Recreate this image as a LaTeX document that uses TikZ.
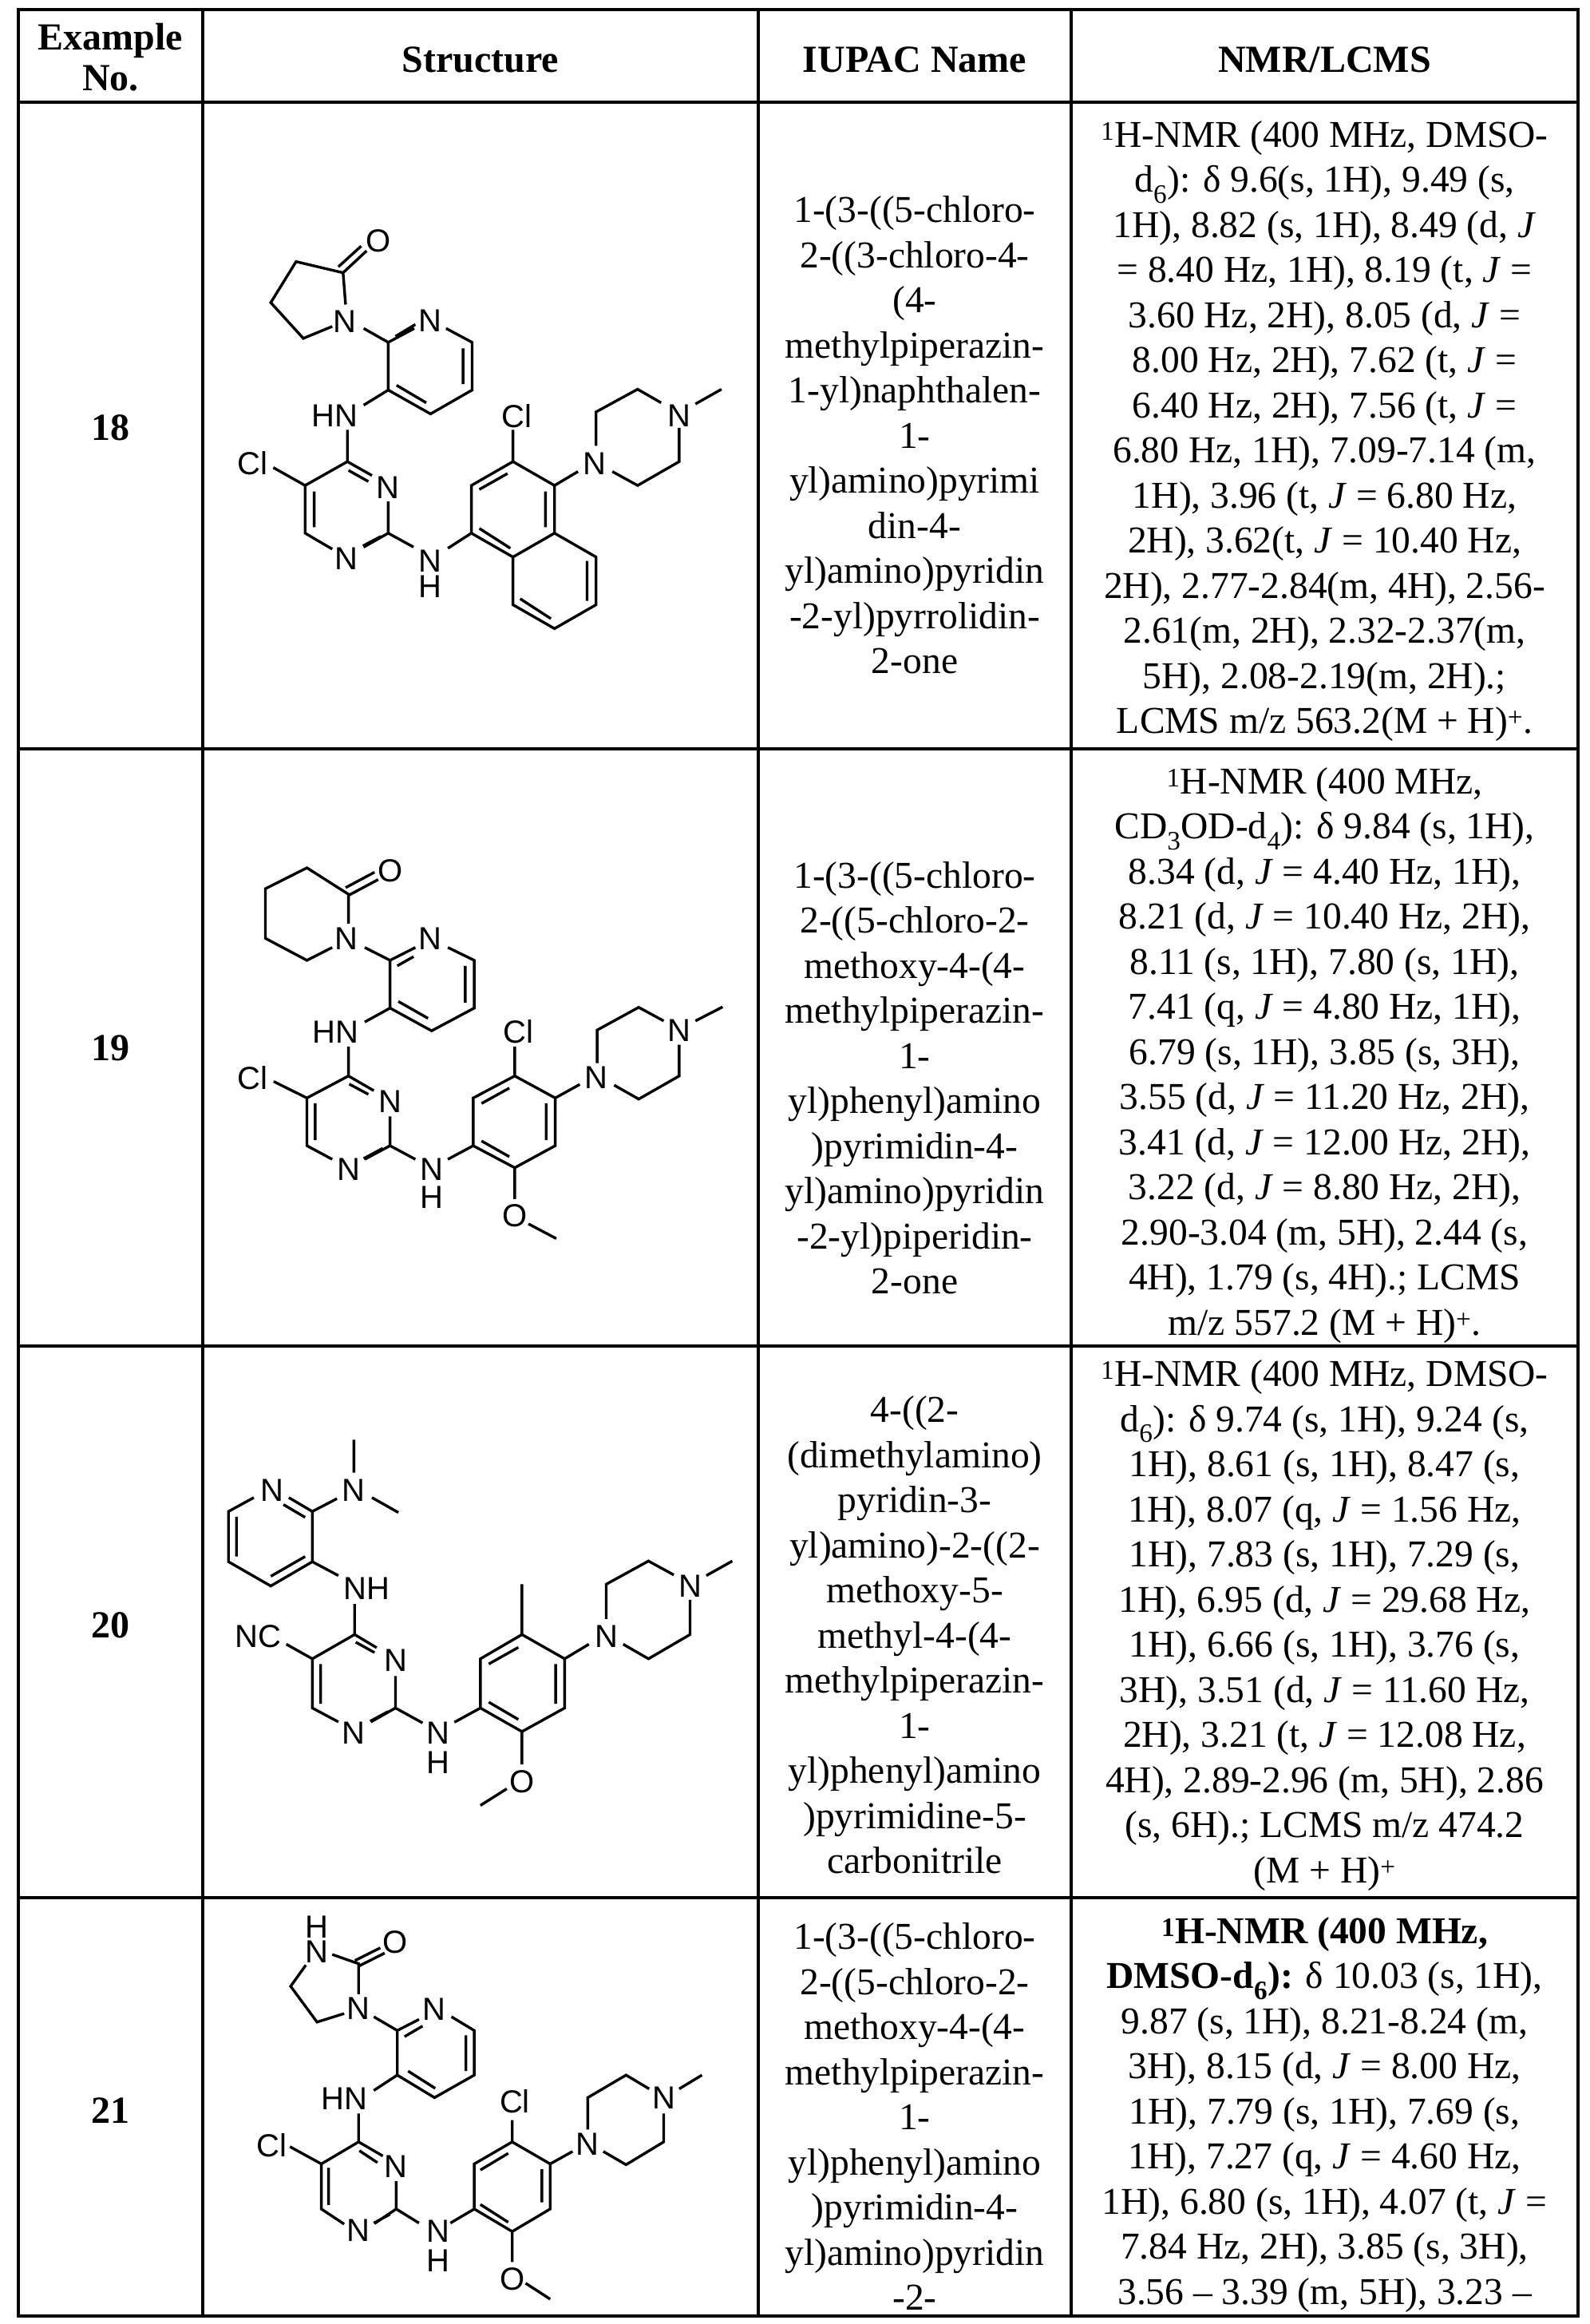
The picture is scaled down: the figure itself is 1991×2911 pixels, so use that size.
\documentclass[tikz,border=0pt]{standalone}
\usepackage{fontspec}
\setmainfont{Liberation Serif}
\newfontfamily\chemfont{Liberation Sans}
\begin{document}
\begin{tikzpicture}[x=1pt,y=-1pt,
  grid/.style={line width=3.6pt},
  bond/.style={line width=3.4pt},
  lab/.style={font=\chemfont\fontsize{40}{42}\selectfont, inner sep=0pt},
  txt/.style={font=\fontsize{47.5}{56.5}\selectfont, align=center, inner sep=0pt},
  hdr/.style={font=\bfseries\fontsize{48}{51}\selectfont, align=center, inner sep=0pt}]
\useasboundingbox (0,0) rectangle (1991,2911);
% grid
\draw[grid] (23,12) rectangle (1977,2901);
\foreach \xx in {254,950,1342} \draw[grid] (\xx,12) -- (\xx,2901);
\foreach \yy in {128,938,1686,2377} \draw[grid] (23,\yy) -- (1977,\yy);
% header
\node[hdr] (h1) at (138.5,72) {Example\\No.};
\node[hdr] (h2) at (602,75) {Structure};
\node[hdr] (h3) at (1146,75) {IUPAC Name};
\node[hdr] (h4) at (1659.5,75) {NMR/LCMS};
% example numbers
\node[hdr] (n18) at (138.5,536) {18};
\node[hdr] (n19) at (138.5,1313) {19};
\node[hdr] (n20) at (138.5,2036) {20};
\node[hdr] (n21) at (138.5,2644) {21};
% IUPAC
\node[txt] (i18) at (1146,545) {1-(3-((5-chloro-\\2-((3-chloro-4-\\(4-\\methylpiperazin-\\1-yl)naphthalen-\\1-\\yl)amino)pyrimi\\din-4-\\yl)amino)pyridin\\-2-yl)pyrrolidin-\\2-one};
\node[txt] (i19) at (1146,1350) {1-(3-((5-chloro-\\2-((5-chloro-2-\\methoxy-4-(4-\\methylpiperazin-\\1-\\yl)phenyl)amino\\)pyrimidin-4-\\yl)amino)pyridin\\-2-yl)piperidin-\\2-one};
\node[txt] (i20) at (1146,2048) {4-((2-\\(dimethylamino)\\pyridin-3-\\yl)amino)-2-((2-\\methoxy-5-\\methyl-4-(4-\\methylpiperazin-\\1-\\yl)phenyl)amino\\)pyrimidine-5-\\carbonitrile};
\node[txt] (i21) at (1146,2651) {1-(3-((5-chloro-\\2-((5-chloro-2-\\methoxy-4-(4-\\methylpiperazin-\\1-\\yl)phenyl)amino\\)pyrimidin-4-\\yl)amino)pyridin\\-2-};
% NMR
\node[txt] (m18) at (1659.5,540) {\textsuperscript{1}H-NMR (400 MHz, DMSO-\\d\textsubscript{6}): δ 9.6(s, 1H), 9.49 (s,\\1H), 8.82 (s, 1H), 8.49 (d, \textit{J}\\= 8.40 Hz, 1H), 8.19 (t, \textit{J} =\\3.60 Hz, 2H), 8.05 (d, \textit{J} =\\8.00 Hz, 2H), 7.62 (t, \textit{J} =\\6.40 Hz, 2H), 7.56 (t, \textit{J} =\\6.80 Hz, 1H), 7.09-7.14 (m,\\1H), 3.96 (t, \textit{J} = 6.80 Hz,\\2H), 3.62(t, \textit{J} = 10.40 Hz,\\2H), 2.77-2.84(m, 4H), 2.56-\\2.61(m, 2H), 2.32-2.37(m,\\5H), 2.08-2.19(m, 2H).;\\LCMS m/z 563.2(M + H)\textsuperscript{+}.};
\node[txt] (m19) at (1659.5,1322) {\textsuperscript{1}H-NMR (400 MHz,\\CD\textsubscript{3}OD-d\textsubscript{4}): δ 9.84 (s, 1H),\\8.34 (d, \textit{J} = 4.40 Hz, 1H),\\8.21 (d, \textit{J} = 10.40 Hz, 2H),\\8.11 (s, 1H), 7.80 (s, 1H),\\7.41 (q, \textit{J} = 4.80 Hz, 1H),\\6.79 (s, 1H), 3.85 (s, 3H),\\3.55 (d, \textit{J} = 11.20 Hz, 2H),\\3.41 (d, \textit{J} = 12.00 Hz, 2H),\\3.22 (d, \textit{J} = 8.80 Hz, 2H),\\2.90-3.04 (m, 5H), 2.44 (s,\\4H), 1.79 (s, 4H).; LCMS\\m/z 557.2 (M + H)\textsuperscript{+}.};
\node[txt] (m20) at (1659.5,2036) {\textsuperscript{1}H-NMR (400 MHz, DMSO-\\d\textsubscript{6}): δ 9.74 (s, 1H), 9.24 (s,\\1H), 8.61 (s, 1H), 8.47 (s,\\1H), 8.07 (q, \textit{J} = 1.56 Hz,\\1H), 7.83 (s, 1H), 7.29 (s,\\1H), 6.95 (d, \textit{J} = 29.68 Hz,\\1H), 6.66 (s, 1H), 3.76 (s,\\3H), 3.51 (d, \textit{J} = 11.60 Hz,\\2H), 3.21 (t, \textit{J} = 12.08 Hz,\\4H), 2.89-2.96 (m, 5H), 2.86\\(s, 6H).; LCMS m/z 474.2\\(M + H)\textsuperscript{+}};
\node[txt] (m21) at (1659.5,2649) {\textbf{\textsuperscript{1}H-NMR (400 MHz,}\\\textbf{DMSO-d\textsubscript{6}):} δ 10.03 (s, 1H),\\9.87 (s, 1H), 8.21-8.24 (m,\\3H), 8.15 (d, \textit{J} = 8.00 Hz,\\1H), 7.79 (s, 1H), 7.69 (s,\\1H), 7.27 (q, \textit{J} = 4.60 Hz,\\1H), 6.80 (s, 1H), 4.07 (t, \textit{J} =\\7.84 Hz, 2H), 3.85 (s, 3H),\\3.56 -- 3.39 (m, 5H), 3.23 --};
% ===== Structure 18
\begin{scope}[shift={(260,130)},xscale=0.4528,yscale=0.498]
\draw[bond] (375,425)--(440,370) (362,410)--(425,358)
 (375,425)--(382,505) (345,560)--(265,590)--(175,500)--(245,397)--(375,425)
 (432,565)--(500,600)--(572,565) (520,585)--(575,555)
 (660,565)--(732,600)--(732,720)--(617,780)--(500,720)--(500,600)
 (707,615)--(707,705) (523,708)--(605,752)
 (500,720)--(432,758) (387,820)--(387,900)
 (387,900)--(455,935) (390,922)--(445,950) (500,1000)--(500,1080)--(432,1115) (430,1112)--(480,1088)
 (345,1120)--(270,1080)--(270,960)--(387,900) (295,975)--(295,1065)
 (182,915)--(270,960)
 (500,1080)--(570,1115) (665,1118)--(730,1080)
 (730,1080)--(730,960)--(845,900)--(960,960)--(960,1080)--(845,1140)--(730,1080)
 (752,970)--(830,930) (935,975)--(935,1065) (752,1068)--(838,1118)
 (960,1080)--(1075,1140)--(1075,1260)--(960,1320)--(845,1260)--(845,1140)
 (1050,1150)--(1050,1250) (865,1245)--(950,1295)
 (845,900)--(845,820) (960,960)--(1025,925)
 (1075,860)--(1075,775)--(1190,718)--(1255,752) (1305,815)--(1305,900)--(1190,960)--(1120,925)
 (1350,755)--(1422,718);
\node[lab] (a18o) at (472,345) {O};
\node[lab] (a18n1) at (380,548) {N};
\node[lab] (a18n2) at (615,545) {N};
\node[lab] (a18hn) at (352,785) {HN};
\node[lab] (a18cl1) at (125,905) {Cl};
\node[lab] (a18n3) at (500,965) {N};
\node[lab] (a18n4) at (385,1145) {N};
\node[lab] (a18n5) at (615,1150) {N};
\node[lab] (a18h) at (615,1215) {H};
\node[lab] (a18cl2) at (855,785) {Cl};
\node[lab] (a18n6) at (1072,905) {N};
\node[lab] (a18n7) at (1305,785) {N};
\end{scope}
% ===== Structure 19
\begin{scope}[shift={(260,950)},xscale=0.4528,yscale=0.4598]
\draw[bond] (392,372)--(472,330) (382,352)--(462,310)
 (390,370)--(390,450) (345,515)--(275,550)--(160,490)--(160,355)--(275,298)--(390,370)
 (435,515)--(505,550)--(575,515) (525,565)--(570,540)
 (665,515)--(738,550)--(738,680)--(620,742)--(505,680)--(505,550)
 (713,565)--(713,665) (528,662)--(610,708)
 (505,680)--(435,718) (390,785)--(390,865)
 (390,865)--(460,905) (392,887)--(445,915) (505,975)--(505,1055)--(435,1092) (432,1090)--(485,1062)
 (345,1092)--(275,1055)--(275,925)--(390,865) (298,940)--(298,1040)
 (183,880)--(275,925)
 (505,1055)--(575,1092) (665,1092)--(735,1055)
 (735,1055)--(735,925)--(850,865)--(962,925)--(962,1055)--(850,1115)--(735,1055)
 (758,940)--(835,898) (937,940)--(937,1040) (758,1042)--(835,1085)
 (850,865)--(850,785) (962,925)--(1030,888)
 (1078,830)--(1078,740)--(1193,678)--(1262,715) (1305,780)--(1305,865)--(1193,928)--(1125,890)
 (1350,715)--(1425,677)
 (850,1115)--(850,1200) (888,1268)--(965,1308);
\node[lab] (a19o) at (505,305) {O};
\node[lab] (a19n1) at (385,490) {N};
\node[lab] (a19n2) at (615,490) {N};
\node[lab] (a19hn) at (355,745) {HN};
\node[lab] (a19cl1) at (125,870) {Cl};
\node[lab] (a19n3) at (505,935) {N};
\node[lab] (a19n4) at (390,1120) {N};
\node[lab] (a19n5) at (620,1120) {N};
\node[lab] (a19h) at (620,1195) {H};
\node[lab] (a19cl2) at (860,745) {Cl};
\node[lab] (a19n6) at (1075,870) {N};
\node[lab] (a19n7) at (1305,740) {N};
\node[lab] (a19o2) at (850,1245) {O};
\end{scope}
% ===== Structure 20
\begin{scope}[shift={(260,1700)},xscale=0.4528,yscale=0.4342]
\draw[bond] (128,405)--(58,445)--(58,590)--(175,660)--(290,590)--(290,445)--(225,405)
 (80,460)--(80,575) (175,632)--(270,575) (270,462)--(210,425)
 (290,445)--(358,408) (405,238)--(405,333) (455,405)--(528,448)
 (290,590)--(362,630) (407,712)--(407,800)
 (407,800)--(468,838) (410,822)--(462,852) (520,920)--(520,1012)--(452,1052) (450,1050)--(500,1022)
 (362,1052)--(290,1012)--(290,870)--(407,800) (313,885)--(313,1000)
 (218,828)--(290,870)
 (520,1012)--(595,1055) (683,1053)--(755,1012)
 (755,1012)--(755,870)--(870,800)--(988,870)--(988,1012)--(870,1080)--(755,1012)
 (778,885)--(860,837) (963,885)--(963,1000) (778,995)--(860,1045)
 (870,800)--(870,655) (870,1080)--(870,1175) (828,1245)--(755,1293)
 (988,870)--(1055,828)
 (1103,755)--(1103,655)--(1220,588)--(1290,628) (1335,700)--(1335,800)--(1220,870)--(1150,828)
 (1380,630)--(1452,588);
\node[lab] (a20n1) at (178,385) {N};
\node[lab] (a20n2) at (405,385) {N};
\node[lab] (a20nh) at (440,668) {NH};
\node[lab] (a20nc) at (140,805) {NC};
\node[lab] (a20n3) at (520,875) {N};
\node[lab] (a20n4) at (405,1085) {N};
\node[lab] (a20n5) at (637,1085) {N};
\node[lab] (a20h) at (637,1170) {H};
\node[lab] (a20o) at (870,1225) {O};
\node[lab] (a20n6) at (1103,805) {N};
\node[lab] (a20n7) at (1335,660) {N};
\end{scope}
% ===== Structure 21
\begin{scope}[shift={(260,2380)},xscale=0.4528,yscale=0.3321]
\draw[bond] (420,248)--(490,200) (408,228)--(478,180)
 (345,205)--(418,240)--(418,355) (378,428)--(303,460)--(230,325)--(272,245)
 (460,440)--(525,492)--(585,450) (545,515)--(595,475)
 (675,440)--(738,492)--(738,660)--(628,745)--(525,660)--(525,492)
 (715,510)--(715,645) (555,645)--(630,710)
 (525,660)--(460,718) (418,805)--(418,912)
 (418,912)--(485,965) (420,945)--(470,990) (522,1060)--(522,1165)--(462,1220) (460,1218)--(505,1185)
 (378,1222)--(315,1165)--(315,995)--(418,912) (335,1010)--(335,1150)
 (228,930)--(315,995)
 (522,1165)--(585,1218) (672,1218)--(738,1165)
 (738,1165)--(738,995)--(843,912)--(948,995)--(948,1165)--(843,1250)--(738,1165)
 (755,1018)--(832,955) (925,1015)--(925,1140) (755,1148)--(832,1215)
 (843,912)--(843,830) (948,995)--(1010,948)
 (1052,865)--(1052,745)--(1158,660)--(1222,712) (1262,805)--(1262,912)--(1158,998)--(1095,948)
 (1305,712)--(1368,660)
 (843,1250)--(843,1365) (880,1445)--(948,1505);
\node[lab] (a21h1) at (303,100) {H};
\node[lab] (a21n0) at (303,195) {N};
\node[lab] (a21o) at (520,160) {O};
\node[lab] (a21n1) at (418,410) {N};
\node[lab] (a21n2) at (628,412) {N};
\node[lab] (a21hn) at (378,750) {HN};
\node[lab] (a21cl1) at (178,925) {Cl};
\node[lab] (a21n3) at (522,1005) {N};
\node[lab] (a21n4) at (418,1245) {N};
\node[lab] (a21n5) at (637,1250) {N};
\node[lab] (a21h) at (637,1360) {H};
\node[lab] (a21cl2) at (850,760) {Cl};
\node[lab] (a21n6) at (1050,920) {N};
\node[lab] (a21n7) at (1262,745) {N};
\node[lab] (a21o2) at (843,1430) {O};
\end{scope}
\end{tikzpicture}
\end{document}
